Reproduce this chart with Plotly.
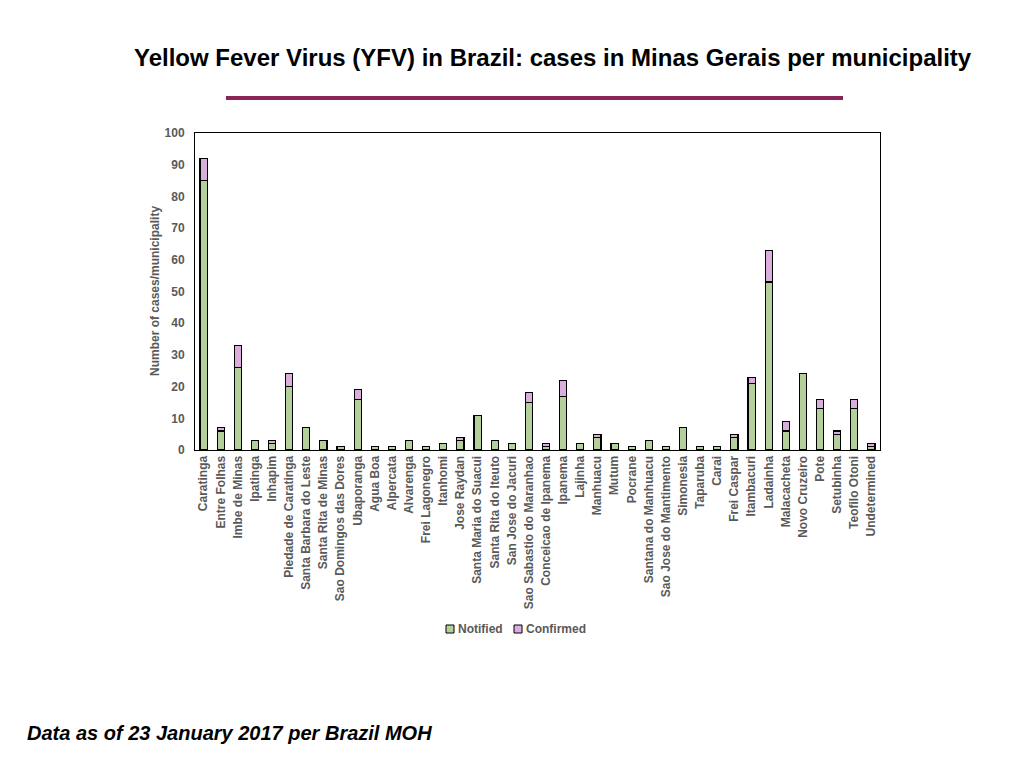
import plotly.graph_objects as go

municipalities = [
    "Caratinga", "Entre Folhas", "Imbe de Minas", "Ipatinga", "Inhapim",
    "Piedade de Caratinga", "Santa Barbara do Leste", "Santa Rita de Minas",
    "Sao Domingos das Dores", "Ubaporanga", "Agua Boa", "Alpercata", "Alvarenga",
    "Frei Lagonegro", "Itanhomi", "Jose Raydan", "Santa Maria do Suacui",
    "Santa Rita do Iteuto", "San Jose do Jacuri", "Sao Sabastio do Maranhao",
    "Conceicao de Ipanema", "Ipanema", "Lajinha", "Manhuacu", "Mutum", "Pocrane",
    "Santana do Manhuacu", "Sao Jose do Mantimento", "Simonesia", "Taparuba",
    "Carai", "Frei Caspar", "Itambacuri", "Ladainha", "Malacacheta",
    "Novo Cruzeiro", "Pote", "Setubinha", "Teofilo Otoni", "Undetermined",
]
notified = [85, 6, 26, 3, 2, 20, 7, 3, 1, 16, 1, 1, 3, 1, 2, 3, 11, 3, 2, 15,
            1, 17, 2, 4, 2, 1, 3, 1, 7, 1, 1, 4, 21, 53, 6, 24, 13, 5, 13, 1]
confirmed = [7, 1, 7, 0, 1, 4, 0, 0, 0, 3, 0, 0, 0, 0, 0, 1, 0, 0, 0, 3,
             1, 5, 0, 1, 0, 0, 0, 0, 0, 0, 0, 1, 2, 10, 3, 0, 3, 1, 3, 1]
y_ticks = [0, 10, 20, 30, 40, 50, 60, 70, 80, 90, 100]

GRAY = "#595959"
GREEN = "#B4D09A"
PINK = "#D9AEDD"
FONT = "Liberation Sans, Arial, sans-serif"

# page offset of the figure inside the browser (body margin)
OX, OY = 8, 8
W, H = 1024 - 2 * OX, 768 - 2 * OY
L, R, T, B = 195 - OX, 880 - OX, 133 - OY, 450 - OY


def px(x):
    return (x - OX - L) / (R - L)


def py(y):
    return (B - (y - OY)) / (B - T)


fig = go.Figure()
fig.add_trace(go.Bar(
    x=municipalities, y=notified, name="Notified",
    marker=dict(color=GREEN, line=dict(color="black", width=1.1)),
))
fig.add_trace(go.Bar(
    x=municipalities, y=confirmed, name="Confirmed",
    marker=dict(color=PINK, line=dict(color="black", width=1.1)),
))

fig.update_layout(
    width=W, height=H,
    barmode="stack", bargap=0.58,
    plot_bgcolor="white", paper_bgcolor="white",
    margin=dict(l=L, r=W - R, t=T, b=H - B, autoexpand=False),
    font=dict(family=FONT, color=GRAY, size=12),
    showlegend=False,
    xaxis=dict(
        tickangle=-90, showline=True, linecolor="black", linewidth=1,
        mirror=True, ticks="", showgrid=False,
        tickfont=dict(family=FONT, size=12, color=GRAY, weight="bold"),
    ),
    yaxis=dict(
        range=[0, 100], tickvals=y_ticks, showline=True, linecolor="black",
        linewidth=1, mirror=True, ticks="", showgrid=False, zeroline=False,
        ticklabelstandoff=7,
        tickfont=dict(family=FONT, size=12, color=GRAY, weight="bold"),
    ),
)

fig.add_annotation(
    text="<b>Yellow Fever Virus (YFV) in Brazil: cases in Minas Gerais per municipality</b>",
    xref="paper", yref="paper", x=px(553), y=py(58),
    xanchor="center", yanchor="middle", showarrow=False,
    font=dict(family=FONT, size=24, color="black"),
)
fig.add_annotation(
    text="<b>Number of cases/municipality</b>",
    xref="paper", yref="paper", x=px(155), y=py(291),
    xanchor="center", yanchor="middle", textangle=-90, showarrow=False,
    font=dict(family=FONT, size=12, color=GRAY),
)
fig.add_annotation(
    text="<b><i>Data as of 23 January 2017 per Brazil MOH</i></b>",
    xref="paper", yref="paper", x=px(25), y=py(733),
    xanchor="left", yanchor="middle", showarrow=False,
    font=dict(family=FONT, size=20, color="black"),
)
fig.add_shape(
    type="line", xref="paper", yref="paper",
    x0=px(226), x1=px(843), y0=py(98), y1=py(98),
    line=dict(color="#8B2456", width=4),
)

# legend drawn as small outlined squares with labels
legend_items = [("Notified", GREEN, 446), ("Confirmed", PINK, 514)]
for name, color, x0 in legend_items:
    fig.add_shape(
        type="rect", xref="paper", yref="paper",
        x0=px(x0), x1=px(x0 + 8), y0=py(625), y1=py(633),
        fillcolor=color, line=dict(color="black", width=1),
    )
    fig.add_annotation(
        text="<b>" + name + "</b>", xref="paper", yref="paper",
        x=px(x0 + 10), y=py(629), xanchor="left", yanchor="middle",
        showarrow=False, font=dict(family=FONT, size=12, color=GRAY),
    )

fig.write_html("out.html")
